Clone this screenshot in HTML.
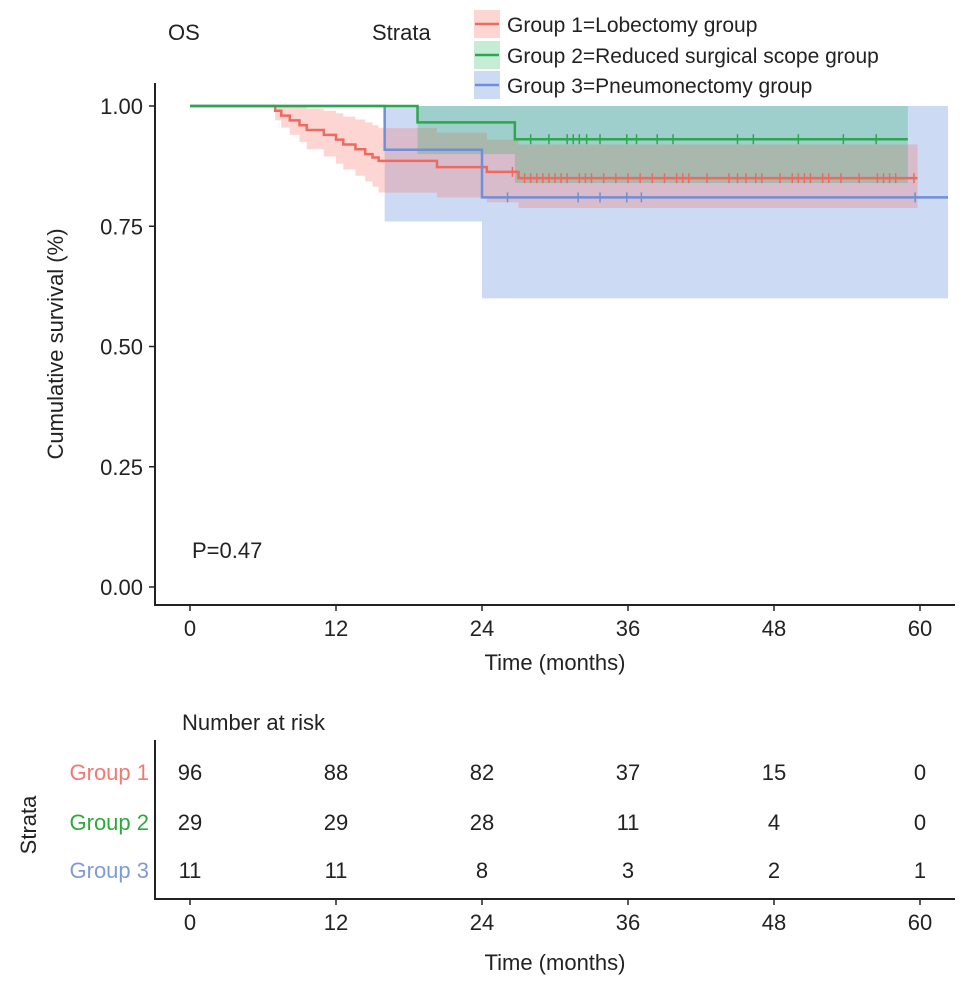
<!DOCTYPE html>
<html><head><meta charset="utf-8"><style>
html,body{margin:0;padding:0;background:#fff}
svg{display:block;font-family:"Liberation Sans",Arial,sans-serif}
</style></head><body>
<svg id="chart" width="969" height="990" viewBox="0 0 969 990"></svg>
<script>
const months=[0,12,24,36,48,60];
const yTicks=[0,0.25,0.5,0.75,1];
const yTickLabels=["0.00","0.25","0.50","0.75","1.00"];
const groupNames=["Group 1=Lobectomy group","Group 2=Reduced surgical scope group","Group 3=Pneumonectomy group"];
const groupShort=["Group 1","Group 2","Group 3"];
// Group 1 (red)
const g1Times=[0,7,7.5,8.2,9,9.6,11,12,12.6,13.6,14.4,15,15.5,20.3,24.4,27];
const g1Surv=[1,0.990,0.980,0.970,0.960,0.950,0.940,0.930,0.920,0.910,0.900,0.893,0.886,0.873,0.863,0.850];
const g1Upper=[1,1,1,1,1,0.995,0.99,0.985,0.978,0.972,0.966,0.960,0.954,0.945,0.930,0.920];
const g1Lower=[1,0.97,0.955,0.94,0.925,0.91,0.895,0.88,0.868,0.855,0.843,0.832,0.82,0.81,0.80,0.788];
const g1End=59.8;
const g1Censor=[26.5,27.5,28,28.5,29,29.5,30,30.5,31,32,32.5,33,34,35,36,37,38,39,40,40.5,41,42.5,44.3,45,45.7,46.5,47,48.5,49.5,50,50.5,51,52,52.5,53.5,55,56.5,57,57.5,58,59.5];
// Group 2 (green)
const g2Times=[0,18.7,26.7];
const g2Surv=[1,0.966,0.931];
const g2Upper=[1,1,1];
const g2Lower=[1,0.90,0.84];
const g2End=59;
const g2Censor=[28,29.5,31,31.5,32,32.6,33.7,35.9,36.7,38.4,39.7,45,46.3,50,53.7,56.4];
// Group 3 (blue)
const g3Times=[0,16,24];
const g3Surv=[1,0.909,0.81];
const g3Upper=[1,1,1];
const g3Lower=[1,0.76,0.60];
const g3End=62.3;
const g3Censor=[26.1,31.9,33.7,35.9,37.1,59.6];
// risk table
const riskG1=[96,88,82,37,15,0];
const riskG2=[29,29,28,11,4,0];
const riskG3=[11,11,8,3,2,1];

const NS="http://www.w3.org/2000/svg";
const svg=document.getElementById('chart');
const X=t=>190+t*(730/60);
const Y=s=>587-s*481;
function el(tag,attrs,parent){const e=document.createElementNS(NS,tag);for(const k in attrs)e.setAttribute(k,attrs[k]);(parent||svg).appendChild(e);return e;}
function txt(str,attrs,parent){const e=el('text',attrs,parent);e.textContent=str;return e;}

const colors=["#ee6a60","#2aa84a","#6f8fd8"];
const fills=["rgba(248,118,109,0.3)","rgba(0,170,70,0.22)","rgba(97,140,220,0.32)"];
const groups=[
 {t:g1Times,s:g1Surv,u:g1Upper,l:g1Lower,end:g1End,c:g1Censor},
 {t:g2Times,s:g2Surv,u:g2Upper,l:g2Lower,end:g2End,c:g2Censor},
 {t:g3Times,s:g3Surv,u:g3Upper,l:g3Lower,end:g3End,c:g3Censor}
];
function stepPts(times,vals,end){let p=[];for(let i=0;i<times.length;i++){if(i>0)p.push([X(times[i]),Y(vals[i-1])]);p.push([X(times[i]),Y(vals[i])]);}p.push([X(end),Y(vals[vals.length-1])]);return p;}

[2,0,1].forEach(gi=>{
 const g=groups[gi];
 const up=stepPts(g.t,g.u,g.end), lo=stepPts(g.t,g.l,g.end).reverse();
 const pts=up.concat(lo).map(p=>p.join(',')).join(' ');
 const e=el('polygon',{points:pts,fill:fills[gi],stroke:'none'});
 
 
});
[0,2,1].forEach(gi=>{
 const g=groups[gi];
 const pts=stepPts(g.t,g.s,g.end).map(p=>p.join(',')).join(' ');
 const e=el('polyline',{points:pts,fill:'none',stroke:colors[gi],'stroke-width':2.5});
 
 
 g.c.forEach(ct=>{
  let s=g.s[0];for(let i=0;i<g.t.length;i++)if(g.t[i]<=ct)s=g.s[i];
  const m=el('line',{x1:X(ct),x2:X(ct),y1:Y(s)-5,y2:Y(s)+5,stroke:colors[gi],'stroke-width':1.5});
  
  
 });
});

const ax=el('g',{});


el('line',{x1:155,y1:83,x2:155,y2:605,stroke:'#222','stroke-width':2},ax);
el('line',{x1:154,y1:605,x2:955,y2:605,stroke:'#222','stroke-width':2},ax);
yTicks.forEach((v,i)=>{
 el('line',{x1:149,x2:155,y1:Y(v),y2:Y(v),stroke:'#222','stroke-width':1.5},ax);
 const t=txt(yTickLabels[i],{x:143,y:Y(v)+8,'font-size':22,'text-anchor':'end',fill:'#222'},ax);
 
 
});
months.forEach(m=>{
 el('line',{x1:X(m),x2:X(m),y1:605,y2:611,stroke:'#222','stroke-width':1.5},ax);
 const t=txt(String(m),{x:X(m),y:636,'font-size':22,'text-anchor':'middle',fill:'#222'},ax);
 
 
});
let t1=txt('Time (months)',{x:555,y:670,'font-size':22,'text-anchor':'middle',fill:'#222'});

let t2=txt('Cumulative survival (%)',{x:0,y:0,'font-size':22,'text-anchor':'middle',fill:'#222',transform:'translate(63,344) rotate(-90)'});

let t3=txt('P=0.47',{x:192,y:558,'font-size':22,fill:'#222'});

let t4=txt('OS',{x:168,y:40,'font-size':22,fill:'#222'});

let t5=txt('Strata',{x:372,y:40,'font-size':22,fill:'#222'});

const legY=[24,55,85];
groupNames.forEach((n,i)=>{
 const g=el('g',{});
 
 
 el('rect',{x:474,y:legY[i]-14,width:26,height:28,fill:fills[i]},g);
 el('line',{x1:475,x2:499,y1:legY[i],y2:legY[i],stroke:colors[i],'stroke-width':2.5},g);
 txt(n,{x:507,y:legY[i]+8,'font-size':21,fill:'#222'},g);
});

let r0=txt('Number at risk',{x:182,y:730,'font-size':22,fill:'#222'});

const rAx=el('g',{});


el('line',{x1:155,y1:740,x2:155,y2:899,stroke:'#222','stroke-width':2},rAx);
el('line',{x1:154,y1:899,x2:955,y2:899,stroke:'#222','stroke-width':2},rAx);
months.forEach(m=>{
 el('line',{x1:X(m),x2:X(m),y1:899,y2:905,stroke:'#222','stroke-width':1.5},rAx);
 const t=txt(String(m),{x:X(m),y:930,'font-size':22,'text-anchor':'middle',fill:'#222'},rAx);
 
 
});
let r1=txt('Time (months)',{x:555,y:970,'font-size':22,'text-anchor':'middle',fill:'#222'});

let r2=txt('Strata',{x:0,y:0,'font-size':22,'text-anchor':'middle',fill:'#222',transform:'translate(36,825) rotate(-90)'});

const rowY=[780,830,878];
const riskRows=[riskG1,riskG2,riskG3];
const labCols=["#f07a72","#2eaa3c","#7f9bd6"];
riskRows.forEach((row,i)=>{
 const l=txt(groupShort[i],{x:149,y:rowY[i],'font-size':22,'text-anchor':'end',fill:labCols[i]});
 
 
 row.forEach((v,j)=>{
  const t=txt(String(v),{x:X(months[j]),y:rowY[i],'font-size':22,'text-anchor':'middle',fill:'#222'});
  
  
 });
});
</script>
</body></html>
